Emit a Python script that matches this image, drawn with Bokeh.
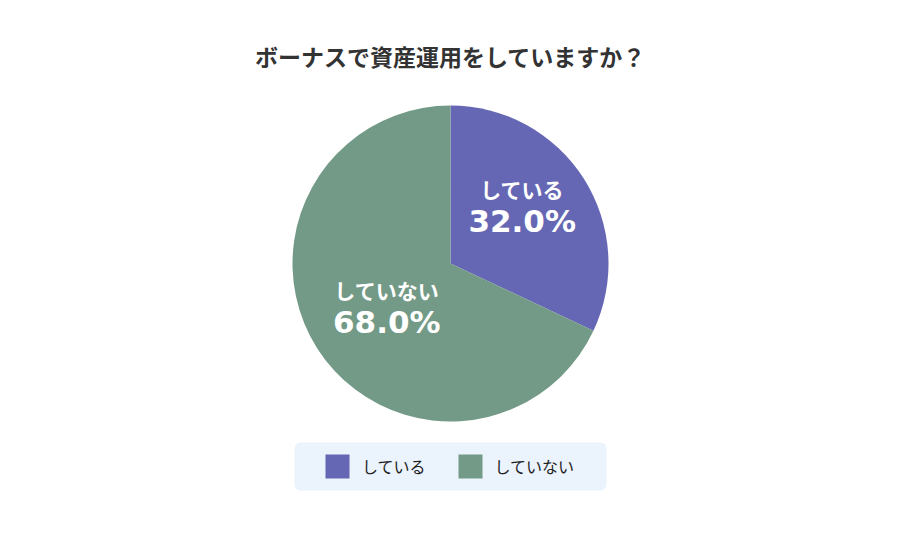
import math
import numpy as np
from bokeh.plotting import figure
from bokeh.models import ColumnDataSource, Range1d, Label, Legend, LegendItem, BoxAnnotation
from bokeh.core.properties import value
from bokeh.embed import file_html
from bokeh.resources import INLINE

title_text = "ボーナスで資産運用をしていますか？"
categories = ["している", "していない"]
shares = [32.0, 68.0]
colors = ["#6567b4", "#739a87"]

# small layout nudges for the in-slice labels (pixels)
label_dx = [1, 7]
label_dy = [13, 1]

W, H = 884, 524
p = figure(width=W, height=H, output_backend="svg", toolbar_location=None,
           x_range=Range1d(0, W), y_range=Range1d(540 - H, 540),
           min_border=0, outline_line_color=None)
p.axis.visible = False
p.grid.visible = False
p.background_fill_color = "white"
p.border_fill_color = "white"

cx, cy, R = 450, 540 - 263, 158

vals = np.array(shares)
frac = vals / vals.sum()
ends = np.cumsum(frac) * 2 * math.pi
starts = np.concatenate([[0], ends[:-1]])
start_ang = math.pi / 2 - starts
end_ang = math.pi / 2 - ends
mid = (start_ang + end_ang) / 2
lr = 0.53 * R
lx = cx + lr * np.cos(mid) + np.array(label_dx)
ly = cy + lr * np.sin(mid) + np.array(label_dy)

src = ColumnDataSource(dict(
    cat=categories, start=start_ang, end=end_ang, color=colors,
    lx=lx, ly_name=ly + 17, ly_pct=ly - 15,
    pct=[f"{v:.1f}%" for v in shares],
))

w = p.wedge(x=cx, y=cy, radius=R, start_angle="start", end_angle="end",
            direction="clock", fill_color="color", line_color=None, source=src)

p.text(x="lx", y="ly_name", text="cat", source=src, text_align="center",
       text_baseline="middle", text_color="white", text_font_size="21px",
       text_font_style="bold", text_font=value("Noto Sans CJK JP"))
p.text(x="lx", y="ly_pct", text="pct", source=src, text_align="center",
       text_baseline="middle", text_color="white", text_font_size="31px",
       text_font_style="bold", text_font=value("DejaVu Sans"))

p.add_layout(Label(x=450, y=540 - 55, text=title_text, text_align="center",
                   text_baseline="middle", text_font_size="23px", text_font_style="bold",
                   text_color="#333333", text_font="Noto Sans CJK JP"))

box_kw = dict(left=294, right=606, top=540 - 442, bottom=540 - 490,
              fill_color="#ebf3fc", fill_alpha=1.0, line_color=None, level="underlay")
if "border_radius" in BoxAnnotation.properties():
    box_kw["border_radius"] = 6
p.add_layout(BoxAnnotation(**box_kw))

items = [LegendItem(label=c, renderers=[w], index=i) for i, c in enumerate(categories)]
legend = Legend(items=items, orientation="horizontal", location=(322, H - 481),
                glyph_width=30, glyph_height=30, label_height=30, label_standoff=10,
                spacing=29, padding=0, margin=0, background_fill_alpha=0,
                border_line_color=None, label_text_font_size="16px",
                label_text_font="Noto Sans CJK JP", label_text_color="#222222",
                label_text_baseline="middle")
p.add_layout(legend, "center")

open("out.html", "w").write(file_html(p, INLINE))
